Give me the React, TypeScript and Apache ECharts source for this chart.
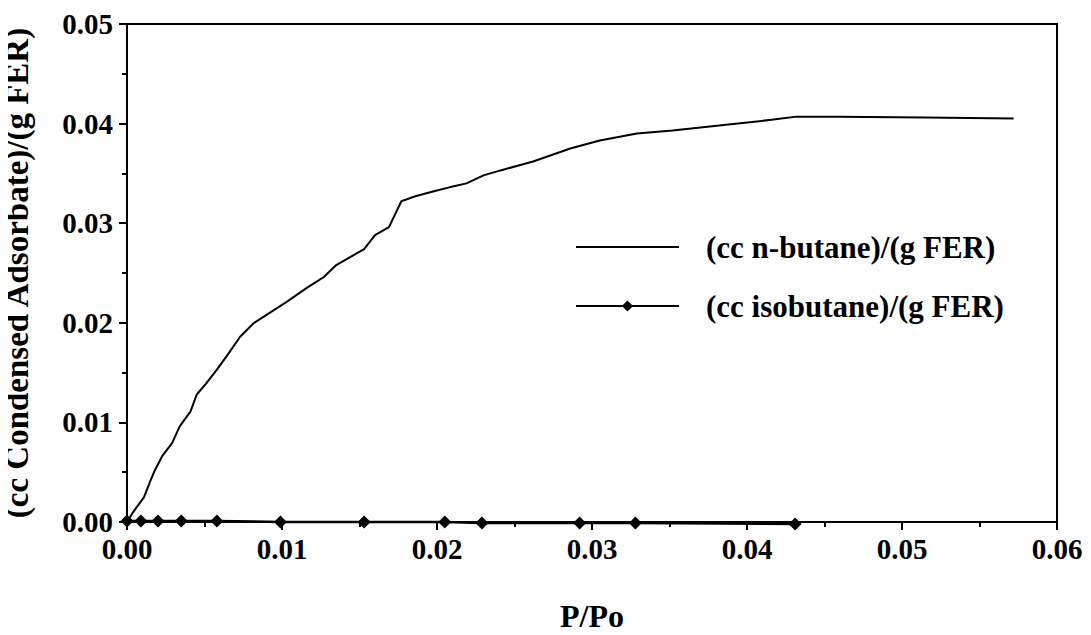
import React, { useEffect, useRef } from "react";
import * as echarts from "echarts";

const nButane: [number, number][] = [
  [0, 0], [0.0004, 0.001], [0.0011, 0.0025], [0.0015, 0.0041], [0.0018, 0.0052],
  [0.0023, 0.0067], [0.0029, 0.0079], [0.0034, 0.0096], [0.0041, 0.0111], [0.0045, 0.0128],
  [0.0051, 0.0139], [0.0058, 0.0153], [0.0065, 0.0168], [0.0073, 0.0186], [0.0082, 0.02],
  [0.0092, 0.021], [0.0103, 0.0221], [0.0116, 0.0235], [0.0127, 0.0246], [0.0135, 0.0258],
  [0.0153, 0.0274], [0.016, 0.0288], [0.0169, 0.0296], [0.0177, 0.0322], [0.0186, 0.0327],
  [0.0198, 0.0332], [0.0208, 0.0336], [0.0219, 0.034], [0.023, 0.0348], [0.0241, 0.0353],
  [0.0262, 0.0362], [0.0286, 0.0375], [0.0305, 0.0383], [0.0329, 0.039], [0.0352, 0.0393],
  [0.0388, 0.0399], [0.0417, 0.0404], [0.0432, 0.0407], [0.0459, 0.0407], [0.0515, 0.0406],
  [0.0572, 0.0405],
];

const isoButane: [number, number][] = [
  [0, 0.0001], [0.0009, 0.0001], [0.002, 0.0001], [0.0035, 0.0001], [0.0058, 0.0001],
  [0.0099, 0], [0.0153, 0], [0.0205, 0], [0.0229, -0.0001], [0.0292, -0.0001],
  [0.0328, -0.0001], [0.0431, -0.0002],
];

const seriesNames = ["(cc n-butane)/(g FER)", "(cc isobutane)/(g FER)"];
const xTitle = "P/Po";
const yTitle = "(cc Condensed Adsorbate)/(g FER)";

const FONT = "Times New Roman, Liberation Serif, DejaVu Serif, serif";

export default function App() {
  const ref = useRef<HTMLDivElement>(null);
  useEffect(() => {
    if (!ref.current) return;
    const chart = echarts.init(ref.current, null, { renderer: "svg" });
    chart.setOption({
      animation: false,
      backgroundColor: "#fff",
      textStyle: { fontFamily: FONT },
      grid: {
        left: 127, right: 34, top: 24, bottom: 113,
        containLabel: false,
        outerBoundsMode: "none",
        show: true, borderColor: "#000", borderWidth: 2, backgroundColor: "transparent",
      },
      legend: {
        orient: "vertical",
        left: 570,
        top: 226,
        itemWidth: 103,
        itemHeight: 14,
        itemGap: 27,
        data: [
          { name: seriesNames[0], itemStyle: { opacity: 0 } },
          { name: seriesNames[1] },
        ],
        textStyle: {
          fontFamily: FONT, fontWeight: "bold", fontSize: 31, color: "#000",
          lineHeight: 32, padding: [0, 0, 0, 22],
        },
        selectedMode: false,
      },
      xAxis: {
        type: "value",
        min: 0, max: 0.06, interval: 0.01,
        name: xTitle,
        nameLocation: "middle",
        nameGap: 78,
        nameTextStyle: { fontFamily: FONT, fontWeight: "bold", fontSize: 32, color: "#000", lineHeight: 32 },
        axisLine: { show: true, onZero: false, lineStyle: { color: "#000", width: 2 } },
        axisTick: { show: true, inside: false, length: 8, lineStyle: { color: "#000", width: 2 } },
        minorTick: { show: true, splitNumber: 2, length: 5, lineStyle: { color: "#000", width: 2 } },
        splitLine: { show: false },
        axisLabel: {
          fontFamily: FONT, fontWeight: "bold", fontSize: 29, color: "#000", margin: 12,
          formatter: (v: number) => v.toFixed(2),
        },
      },
      yAxis: {
        type: "value",
        min: 0, max: 0.05, interval: 0.01,
        name: yTitle,
        nameLocation: "middle",
        nameGap: 94,
        nameTextStyle: { fontFamily: FONT, fontWeight: "bold", fontSize: 33, color: "#000" },
        axisLine: { show: true, onZero: false, lineStyle: { color: "#000", width: 2 } },
        axisTick: { show: true, inside: false, length: 8, lineStyle: { color: "#000", width: 2 } },
        minorTick: { show: true, splitNumber: 2, length: 5, lineStyle: { color: "#000", width: 2 } },
        splitLine: { show: false },
        axisLabel: {
          fontFamily: FONT, fontWeight: "bold", fontSize: 29, color: "#000", margin: 14,
          formatter: (v: number) => v.toFixed(2),
        },
      },
      series: [
        {
          name: seriesNames[0],
          type: "line",
          data: nButane,
          symbol: "none",
          clip: false,
          lineStyle: { color: "#000", width: 2 },
          itemStyle: { color: "#000" },
          z: 3,
        },
        {
          name: seriesNames[1],
          type: "line",
          data: isoButane,
          symbol: "diamond",
          symbolSize: 13,
          showAllSymbol: true,
          clip: false,
          lineStyle: { color: "#000", width: 2.5 },
          itemStyle: { color: "#000" },
          z: 4,
        },
      ],
    });
    return () => chart.dispose();
  }, []);
  return <div ref={ref} style={{ width: 1091, height: 635, margin: -8 }} />;
}
